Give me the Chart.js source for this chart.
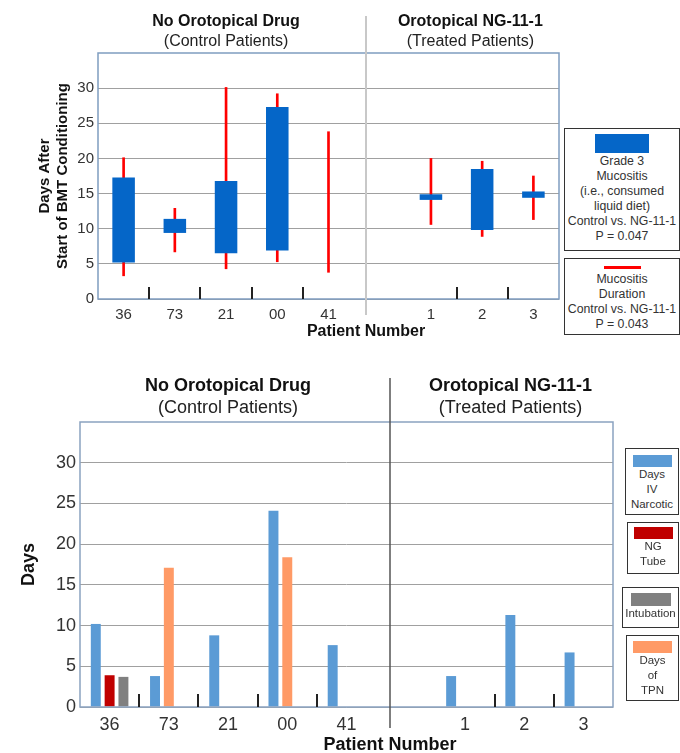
<!DOCTYPE html>
<html>
<head>
<meta charset="utf-8">
<script src="https://cdn.jsdelivr.net/npm/chart.js@4.4.1/dist/chart.umd.min.js"></script>
<style>
  body { margin: 0; background: #fff; font-family: 'Liberation Sans', Arial, sans-serif; }
  #wrap { position: relative; width: 680px; height: 753px; overflow: hidden; }
  canvas { position: absolute; left: 0; }
  .lg { position: absolute; border: 1px solid #333; background: #fff; color: #333;
        text-align: center; font-size: 11.5px; line-height: 15px; box-sizing: border-box; }
  .lg.big { font-size: 12.3px; }
  .sw { margin: 0 auto; }
</style>
</head>
<body>
<div id="wrap">
  <canvas id="mucositis" width="680" height="345" style="top:0"></canvas>
  <canvas id="support" width="680" height="408" style="top:345px"></canvas>

  <div class="lg big" style="left:564px;top:128px;width:116px;height:123px;padding-top:5px">
    <div class="sw" style="width:54px;height:19px;background:#0566c8;margin-bottom:1px"></div>
    Grade 3<br>Mucositis<br>(i.e., consumed<br>liquid diet)<br>Control vs. NG-11-1<br>P = 0.047
  </div>
  <div class="lg big" style="left:564px;top:258px;width:116px;height:77px;padding-top:7px">
    <div class="sw" style="width:37px;height:3px;background:#ff0000;margin-bottom:3px"></div>
    Mucositis<br>Duration<br>Control vs. NG-11-1<br>P = 0.043
  </div>

  <div class="lg" style="left:625px;top:448px;width:54px;height:67px;padding-top:6px">
    <div class="sw" style="width:39px;height:12px;background:#5b9bd5"></div>
    Days<br>IV<br>Narcotic
  </div>
  <div class="lg" style="left:627px;top:522px;width:52px;height:52px;padding-top:4px">
    <div class="sw" style="width:39px;height:12px;background:#c00000"></div>
    NG<br>Tube
  </div>
  <div class="lg" style="left:622px;top:587px;width:57px;height:41px;padding-top:5px">
    <div class="sw" style="width:40px;height:13px;background:#808080"></div>
    Intubation
  </div>
  <div class="lg" style="left:626px;top:635px;width:53px;height:66px;padding-top:5px">
    <div class="sw" style="width:39px;height:12px;background:#ff9a66"></div>
    Days<br>of<br>TPN
  </div>
</div>

<script>
// Patients (blank slot separates the two groups)
const patients = ['36', '73', '21', '00', '41', '', '1', '2', '3'];
const groupTitles = ['No Orotopical Drug', 'Orotopical NG-11-1'];
const groupSubs = ['(Control Patients)', '(Treated Patients)'];

// Top chart: days after start of BMT conditioning [start, end]
const grade3Mucositis = [[5.2, 17.3], [9.4, 11.4], [6.5, 16.8], [6.9, 27.3], null, null, [14.1, 14.9], [9.8, 18.5], [14.4, 15.3]];
const mucositisDuration = [[3.3, 20.1], [6.7, 12.9], [4.3, 30.1], [5.3, 29.2], [3.8, 23.8], null, [10.6, 20.0], [8.9, 19.6], [11.3, 17.5]];

// Bottom chart: days
const ivNarcotic = [10.2, 3.8, 8.8, 24.1, 7.6, null, 3.8, 11.3, 6.7];
const ngTube = [3.9, null, null, null, null, null, null, null, null];
const intubation = [3.7, null, null, null, null, null, null, null, null];
const tpnDays = [null, 17.1, null, 18.4, null, null, null, null, null];

const yTicks = [0, 5, 10, 15, 20, 25, 30];

const FONT = "'Liberation Sans', Arial, sans-serif";
Chart.defaults.font.family = FONT;
Chart.defaults.animation = false;

// boundaries between patients that get a small separator mark
const sepAt = [0.5, 1.5, 2.5, 3.5, 6.5, 7.5];
const groupCenter = [2, 6.77];
const splitAt = 4.74;

function decor(o) {
  return {
    id: 'decor',
    afterDraw(chart) {
      const { ctx, chartArea: a, scales: { x } } = chart;
      ctx.save();
      ctx.strokeStyle = o.frame;
      ctx.lineWidth = 1.5;
      ctx.strokeRect(a.left, a.top, a.right - a.left, a.bottom - a.top);

      ctx.strokeStyle = '#222';
      ctx.lineWidth = 2;
      sepAt.forEach(v => {
        const px = Math.round(x.getPixelForValue(v));
        ctx.beginPath();
        ctx.moveTo(px, a.bottom);
        ctx.lineTo(px, a.bottom - o.sepLen);
        ctx.stroke();
      });

      const dx = Math.round(x.getPixelForValue(splitAt));
      ctx.strokeStyle = o.divColor;
      ctx.lineWidth = o.divWidth;
      ctx.beginPath();
      ctx.moveTo(dx, o.divTop);
      ctx.lineTo(dx, o.divBottom);
      ctx.stroke();

      ctx.fillStyle = '#111';
      ctx.textAlign = 'center';
      ctx.textBaseline = 'middle';
      groupTitles.forEach((t, i) => {
        const cx = x.getPixelForValue(groupCenter[i]);
        ctx.font = 'bold ' + o.hSize + 'px ' + FONT;
        ctx.fillText(t, cx, o.hY1);
        ctx.font = o.hSize + 'px ' + FONT;
        ctx.fillStyle = '#222';
        ctx.fillText(groupSubs[i], cx, o.hY2);
        ctx.fillStyle = '#111';
      });
      ctx.font = 'bold ' + o.aSize + 'px ' + FONT;
      ctx.fillText('Patient Number', dx, o.aY);
      ctx.restore();
    }
  };
}

function yAxis(title, size, tickSize, width) {
  return {
    min: 0, max: 35,
    afterBuildTicks: s => { s.ticks = yTicks.map(v => ({ value: v })); },
    ticks: { color: '#333', font: { size: tickSize }, padding: 4 },
    grid: { color: '#a0a0a0', drawTicks: false },
    border: { display: false },
    title: { display: true, text: title, color: '#111', padding: 0,
             font: { size: size, weight: 'bold', lineHeight: 1.2 } },
    afterFit: s => { s.width = width; }
  };
}

function xAxis(tickSize, height) {
  return {
    grid: { display: false },
    border: { display: false },
    ticks: { color: '#333', font: { size: tickSize }, padding: -1, autoSkip: false, maxRotation: 0 },
    afterFit: s => { s.height = height; }
  };
}

new Chart(document.getElementById('mucositis'), {
  type: 'bar',
  data: {
    labels: patients,
    datasets: [
      { label: 'Grade 3 Mucositis', data: grade3Mucositis, backgroundColor: '#0566c8',
        grouped: false, categoryPercentage: 1, barPercentage: 0.44 },
      { label: 'Mucositis Duration', data: mucositisDuration, backgroundColor: '#ff0000',
        grouped: false, barThickness: 2 }
    ]
  },
  options: {
    responsive: false,
    layout: { padding: { top: 53, left: 36, right: 121, bottom: 0 } },
    plugins: { legend: { display: false }, tooltip: { enabled: false } },
    scales: {
      x: xAxis(15, 46),
      y: yAxis(['Days After', 'Start of BMT Conditioning'], 15, 15, 62)
    }
  },
  plugins: [decor({ frame: '#7f9dc0', sepLen: 12, divColor: '#c8c8c8', divWidth: 2,
                    divTop: 16, divBottom: 315, hSize: 16, hY1: 22, hY2: 42, aSize: 16, aY: 332 })]
});

new Chart(document.getElementById('support'), {
  type: 'bar',
  data: {
    labels: patients,
    datasets: [
      { label: 'Days IV Narcotic', data: ivNarcotic, backgroundColor: '#5b9bd5', stack: 'a' },
      { label: 'NG Tube', data: ngTube, backgroundColor: '#c00000', stack: 'b' },
      { label: 'Intubation', data: intubation, backgroundColor: '#808080', stack: 'c' },
      { label: 'Days of TPN', data: tpnDays, backgroundColor: '#ff9a66', stack: 'b' }
    ]
  },
  options: {
    responsive: false,
    datasets: { bar: { categoryPercentage: 0.7, barPercentage: 0.72 } },
    layout: { padding: { top: 77, left: 18, right: 67, bottom: 0 } },
    plugins: { legend: { display: false }, tooltip: { enabled: false } },
    scales: {
      x: xAxis(18, 46),
      y: yAxis('Days', 18, 18, 62)
    }
  },
  plugins: [decor({ frame: '#8aa2c0', sepLen: 13, divColor: '#555', divWidth: 1.5,
                    divTop: 33, divBottom: 383, hSize: 18, hY1: 41, hY2: 63, aSize: 18, aY: 400 })]
});
</script>
</body>
</html>
